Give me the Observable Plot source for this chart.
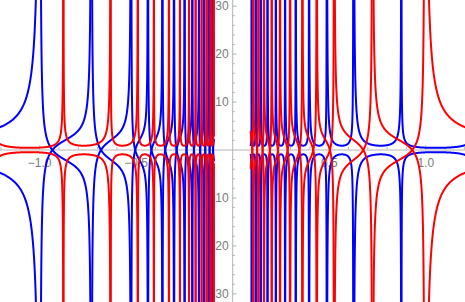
<!DOCTYPE html>
<html>
<head>
<meta charset="utf-8">
<script src="https://cdn.jsdelivr.net/npm/d3@7"></script>
<script src="https://cdn.jsdelivr.net/npm/@observablehq/plot@0.6"></script>
<style>
  body { margin: 0; background: #ffffff; }
  #chart svg { display: block; }
</style>
</head>
<body>
<div id="chart"></div>
<script>
// ---- Data ----
// x positions of the vertical asymptotes (outermost/innermost entries are estimated
// positions just outside the visible range, so the first/last branches can be drawn)
const blueRightAsym = [0.081, 0.098, 0.119, 0.145, 0.180, 0.223, 0.271, 0.326, 0.395, 0.487, 0.625, 0.874, 1.27];
const redRightAsym  = [0.088, 0.106, 0.133, 0.162, 0.202, 0.245, 0.297, 0.361, 0.435, 0.525, 0.724, 0.995, 2.0];
const blueLeftAsym  = [-2.0, -0.998, -0.732, -0.526, -0.439, -0.364, -0.304, -0.249, -0.209, -0.175, -0.148, -0.124, -0.106, -0.088];
const redLeftAsym   = [-1.27, -0.877, -0.632, -0.491, -0.408, -0.330, -0.273, -0.226, -0.192, -0.161, -0.135, -0.114, -0.098, -0.081];
// the curves stop short of x = 0 on both sides
const innerCut = [-0.097, 0.093];

// axis ticks
const xTicksMajor = [-1.0, -0.5, 0.5, 1.0];
const xTickLabels = ["\u22121.0", "\u22120.5", "0.5", "1.0"];
const xTicksMinor = [-1.2, -1.1, -0.9, -0.8, -0.7, -0.6, -0.4, -0.3, -0.2, -0.1, 0.1, 0.2, 0.3, 0.4, 0.6, 0.7, 0.8, 0.9, 1.1, 1.2];
const yTicksMajor = [-30, -20, -10, 10, 20, 30];
const yTickLabels = ["\u221230", "\u221220", "\u221210", "10", "20", "30"];
const yTicksMinor = [-28, -26, -24, -22, -18, -16, -14, -12, -8, -6, -4, -2, 2, 4, 6, 8, 12, 14, 16, 18, 22, 24, 26, 28];

// ---- shape settings ----
const X_DOMAIN = [-1.203, 1.206];
const Y_DOMAIN = [-31.8, 31.18];
const TAN_SCALE = 2.0;
const SEC_MIN = 0.9, SEC_MIN_OUTER = 0.45;
const N = 500, YCAP = 90;

function sampleT() {
  const ts = [];
  for (let i = 1; i < N; i++) ts.push((1 - Math.cos(Math.PI * i / N)) / 2);
  return ts;
}
const TS = sampleT();

function inWindow(x, side) {
  if (x < X_DOMAIN[0] - 0.01 || x > X_DOMAIN[1] + 0.01) return false;
  return side === "right" ? x >= innerCut[1] : x <= innerCut[0];
}

function tanBranch(a, b, pz, s, side, id, out) {
  const off = Math.tan(Math.PI * (pz - 0.5));
  for (const sign of [1, -1]) {
    for (const t of TS) {
      const x = a + t * (b - a);
      const y = sign * s * (Math.tan(Math.PI * (t - 0.5)) - off);
      if (Math.abs(y) <= YCAP && inWindow(x, side)) out.push({x, y, id: id + (sign > 0 ? "p" : "m")});
    }
  }
}
function secBranch(a, b, pm, m, side, id, out) {
  const k = Math.log(0.5) / Math.log(pm);
  for (const sign of [1, -1]) {
    for (const t of TS) {
      const x = a + t * (b - a);
      const w = Math.pow(t, k);
      const y = sign * m / Math.sin(Math.PI * w);
      if (Math.abs(y) <= YCAP && inWindow(x, side)) out.push({x, y, id: id + (sign > 0 ? "p" : "m")});
    }
  }
}

const blueData = [], redData = [];
// right side: blue is U-shaped, red crosses zero
for (let i = 0; i < blueRightAsym.length - 1; i++) {
  const a = blueRightAsym[i], b = blueRightAsym[i + 1];
  const outer = i === blueRightAsym.length - 2;
  secBranch(a, b, outer ? 0.444 : 0.57, outer ? SEC_MIN_OUTER : SEC_MIN, "right", "br" + i, blueData);
}
for (let i = 0; i < redRightAsym.length - 1; i++) {
  tanBranch(redRightAsym[i], redRightAsym[i + 1], 0.76, TAN_SCALE, "right", "rr" + i, redData);
}
// left side: mirror with colours swapped
for (let i = 0; i < blueLeftAsym.length - 1; i++) {
  tanBranch(blueLeftAsym[i], blueLeftAsym[i + 1], 0.24, TAN_SCALE, "left", "bl" + i, blueData);
}
for (let i = 0; i < redLeftAsym.length - 1; i++) {
  const outer = i === 0;
  secBranch(redLeftAsym[i], redLeftAsym[i + 1], outer ? 0.556 : 0.43, outer ? SEC_MIN_OUTER : SEC_MIN, "left", "rl" + i, redData);
}

const AXIS = "#b3b3b3", LABEL = "#7a7a7a";
const chart = Plot.plot({
  width: 465,
  height: 302,
  margin: 0,
  x: {domain: X_DOMAIN, axis: null},
  y: {domain: Y_DOMAIN, axis: null},
  style: {background: "#ffffff", fontFamily: "'Liberation Sans', Arial, sans-serif", fontSize: "12px"},
  marks: [
    Plot.ruleY([0], {stroke: AXIS, strokeWidth: 1}),
    Plot.ruleX([0], {stroke: AXIS, strokeWidth: 1}),
    Plot.ruleX(xTicksMajor, {x: d => d, y1: 0, y2: 0.85, stroke: AXIS}),
    Plot.ruleX(xTicksMinor, {x: d => d, y1: 0, y2: 0.5, stroke: AXIS}),
    Plot.ruleY(yTicksMajor, {y: d => d, x1: 0, x2: 0.022, stroke: AXIS}),
    Plot.ruleY(yTicksMinor, {y: d => d, x1: 0, x2: 0.013, stroke: AXIS}),
    Plot.text(xTicksMajor, {x: d => d, y: 0, dy: 13, text: (d, i) => xTickLabels[i], fill: LABEL, textAnchor: "middle", lineAnchor: "middle"}),
    Plot.text(yTicksMajor, {x: 0, y: d => d, dx: -4, text: (d, i) => yTickLabels[i], fill: LABEL, textAnchor: "end", lineAnchor: "middle"}),
    Plot.line(blueData, {x: "x", y: "y", z: "id", stroke: "#0000ff", strokeWidth: 2, clip: true}),
    Plot.line(redData, {x: "x", y: "y", z: "id", stroke: "#ff0000", strokeWidth: 2, clip: true})
  ]
});
document.getElementById("chart").appendChild(chart);
</script>
</body>
</html>
